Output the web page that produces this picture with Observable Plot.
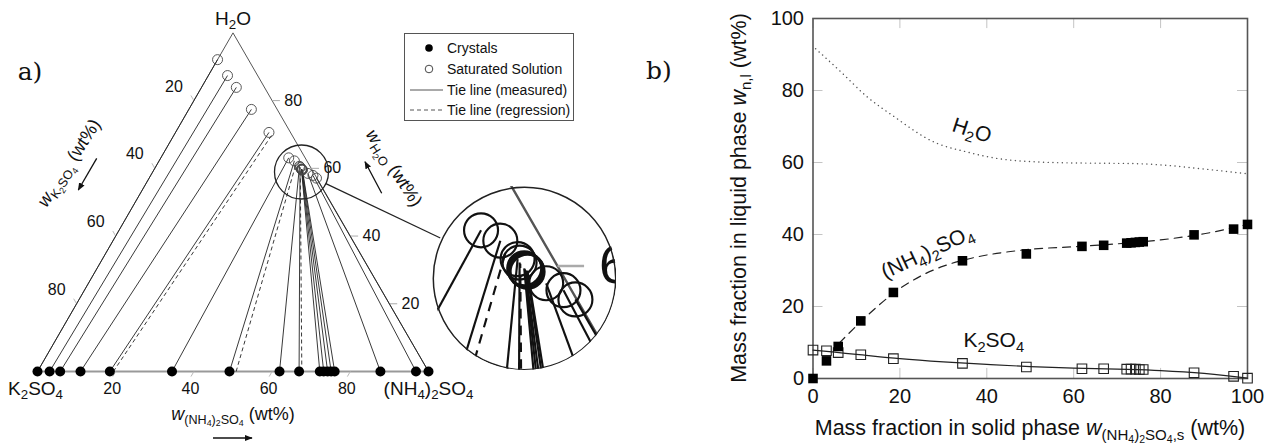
<!DOCTYPE html>
<html><head><meta charset="utf-8">
<script src="https://cdn.jsdelivr.net/npm/d3@7"></script>
<script src="https://cdn.jsdelivr.net/npm/@observablehq/plot@0.6"></script>
<style>
body{margin:0;background:#fff;}
#wrap{position:relative;width:1278px;height:447px;overflow:hidden;font-family:"Liberation Sans",Arial,sans-serif;color:#111;background:#fff;}
.lbl{position:absolute;white-space:nowrap;transform:translate(-50%,-50%);line-height:1;}
sub{font-size:70%;vertical-align:-0.3em;line-height:0;}
#legend{position:absolute;left:404px;top:33px;width:170px;height:88px;border:1px solid #555;background:#fff;font-size:14px;box-sizing:border-box;}
#legend .row{position:absolute;left:0;display:flex;align-items:center;transform:translateY(-50%);white-space:nowrap;}
#legend svg{width:42px;height:16px;flex:none;}
</style></head><body><div id="wrap"></div>
<script>
// ---------------- data ----------------
// crystal (solid phase) mass fraction of (NH4)2SO4, wt%
const solidNH4 = [0, 3.1, 5.8, 11.0, 18.5, 34.4, 49.1, 61.9, 66.9, 72.2, 73.2, 74.2, 75.1, 76.0, 87.7, 96.8, 100];
// saturated solution (liquid phase) composition, wt%
const liqNH4   = [0, 4.9, 8.9, 16.0, 23.9, 32.7, 34.6, 36.7, 37.0, 37.6, 37.7, 37.8, 37.9, 38.0, 39.9, 41.5, 42.8];
const liqK2SO4 = [7.9, 7.7, 7.2, 6.6, 5.5, 4.2, 3.2, 2.7, 2.7, 2.6, 2.6, 2.6, 2.5, 2.5, 1.6, 0.6, 0.1];
// regression tie lines
const regSolidNH4 = [19.4, 50.8, 67.6];
const regLiqNH4   = [25.0, 35.5, 37.1];
const regLiqK2SO4 = [5.3, 3.3, 2.7];
// regression curves (panel b)
const fitNH4X = [6, 10, 15, 20, 25, 30, 35, 40, 45, 50, 60, 70, 80, 90, 100];
const fitNH4Y = [9.8, 14.6, 20.2, 25.0, 28.6, 31.2, 33.0, 34.3, 35.2, 35.9, 36.6, 37.4, 38.5, 40.2, 42.8];
const fitK2X = [0, 5, 10, 20, 30, 40, 50, 60, 70, 80, 90, 95, 100];
const fitK2Y = [7.9, 7.3, 6.7, 5.5, 4.6, 3.9, 3.3, 2.9, 2.6, 2.2, 1.4, 0.8, 0.1];
const fitH2OX = [0.6, 6.4, 12.5, 18.6, 27.8, 35.5, 43.1, 50.8, 58.5, 66.1, 73.8, 81.5, 89.1, 99.8];
const fitH2OY = [91.6, 85.2, 78.2, 72.8, 65.7, 62.9, 61.0, 60.2, 59.9, 59.8, 59.7, 59.2, 58.3, 56.9];
// tick labels
const ternTicks = [20, 40, 60, 80];
const bTicks = [0, 20, 40, 60, 80, 100];

// ---------------- helpers ----------------
const S3 = Math.sqrt(3) / 2;
const tx = (a, h) => a + h / 2;
const ty = h => h * S3;
const FONT = '"Liberation Sans", Arial, sans-serif';
const wrap = document.getElementById("wrap");

function subify(svg) {
  svg.querySelectorAll("text").forEach(t => {
    const s = t.textContent;
    if (!s.includes("_") || t.children.length) return;
    const parts = []; let i = 0, cur = "";
    while (i < s.length) {
      if (s[i] === "_") {
        if (cur) parts.push([cur, false]); cur = ""; i++;
        let sub;
        if (s[i] === "{") { const j = s.indexOf("}", i); sub = s.slice(i + 1, j); i = j + 1; }
        else { sub = s[i]; i++; }
        parts.push([sub, true]);
      } else { cur += s[i]; i++; }
    }
    if (cur) parts.push([cur, false]);
    t.textContent = "";
    let prev = false;
    for (const [str, isSub] of parts) {
      const ts = document.createElementNS("http://www.w3.org/2000/svg", "tspan");
      ts.textContent = str;
      if (isSub) { ts.setAttribute("font-size", "70%"); if (!prev) ts.setAttribute("dy", "0.35em"); }
      else if (prev) ts.setAttribute("dy", "-0.245em");
      t.appendChild(ts); prev = isSub;
    }
  });
}

// ---------------- ternary (panel a) ----------------
const tie = solidNH4.map((s, i) => {
  const a = liqNH4[i], k = liqK2SO4[i], h = 100 - a - k;
  return {x1: s, y1: 0, x2: tx(a, h), y2: ty(h)};
});
const reg = regSolidNH4.map((s, i) => {
  const a = regLiqNH4[i], k = regLiqK2SO4[i], h = 100 - a - k;
  return {x1: s, y1: 0, x2: tx(a, h), y2: ty(h)};
});
const liqPts = tie.map(d => ({x: d.x2, y: d.y2}));
const crysPts = tie.map(d => ({x: d.x1, y: 0}));
const sidePts = [{x: 0, y: 0}, {x: 50, y: ty(100)}, {x: 100, y: 0}];
const basePts = [{x: 0, y: 0}, {x: 100, y: 0}];
const bTk = ternTicks.map(v => ({x1: v, y1: 0, x2: v - 0.75, y2: -1.3}));
const lTk = ternTicks.map(v => { const h = 100 - v; return {x1: tx(0, h), y1: ty(h), x2: tx(0, h) - 0.75, y2: ty(h) + 1.3}; });
const rTk = ternTicks.map(v => ({x1: tx(100 - v, v), y1: ty(v), x2: tx(100 - v, v) + 2, y2: ty(v)}));
const bLab = ternTicks.map(v => ({x: v - 0.9, y: -4.4, t: String(v)}));
const lLab = ternTicks.map(v => { const h = 100 - v; return {x: tx(0, h) - 5.1, y: ty(h) + 3.6, t: String(v)}; });
const rLab = ternTicks.map(v => ({x: tx(100 - v, v) + 5.4, y: ty(v), t: String(v)}));
const vLab = [{x: 50, y: ty(100) + 3.7, t: "H_2O"}, {x: -0.5, y: -4.4, t: "K_2SO_4"}, {x: 100, y: -4.4, t: "(NH_4)_2SO_4"}];

function ternMarks(k, ks, keep, ink) {
  const f = arr => arr.filter(keep);
  return [
    Plot.line(sidePts, {x: "x", y: "y", stroke: "#555", strokeWidth: 1 * ks}),
    Plot.line(basePts, {x: "x", y: "y", stroke: "#999", strokeWidth: 1.8 * ks}),
    Plot.link(bTk, {x1: "x1", y1: "y1", x2: "x2", y2: "y2", stroke: "#bbb", strokeWidth: ks}),
    Plot.link(lTk, {x1: "x1", y1: "y1", x2: "x2", y2: "y2", stroke: "#bbb", strokeWidth: ks}),
    Plot.link(rTk, {x1: "x1", y1: "y1", x2: "x2", y2: "y2", stroke: "#aaa", strokeWidth: ks}),
    Plot.text(f(bLab), {x: "x", y: "y", text: "t", fontSize: 16 * k, fill: "#111"}),
    Plot.text(f(lLab), {x: "x", y: "y", text: "t", fontSize: 16 * k, fill: "#111"}),
    Plot.text(f(rLab), {x: "x", y: "y", text: "t", fontSize: 16 * k, fill: "#111"}),
    Plot.text(f(vLab), {x: "x", y: "y", text: "t", fontSize: 19 * k, fill: "#111"}),
    Plot.link(tie, {x1: "x1", y1: "y1", x2: "x2", y2: "y2", stroke: ink, strokeWidth: 0.9 * ks}),
    Plot.link(reg, {x1: "x1", y1: "y1", x2: "x2", y2: "y2", stroke: ink, strokeWidth: 0.9 * ks, strokeDasharray: `${4 * ks},${3 * ks}`}),
    Plot.dot(liqPts, {x: "x", y: "y", r: 5 * k, stroke: ink === "#111" ? "#111" : "#444", strokeWidth: 0.9 * ks, fill: "none"}),
    Plot.dot(crysPts, {x: "x", y: "y", r: 5 * k, fill: "#000", stroke: "none"})
  ];
}

const PX = 3.91, X0 = 37, Y0 = 371, TW = 640, TH = 447;
// magnifier: small circle centre (data units), enlarged view centre (data units)
const mag = {x: (301 - X0) / PX, y: (Y0 - 171.5) / PX, r: 27};
const big = {x: (524 - X0) / PX, y: (Y0 - 277.5) / PX, r: 92};
const M = 3.4;
const dx = big.x - mag.x, dy = big.y - mag.y, dl = Math.hypot(dx, dy);
const ux = dx / dl, uy = dy / dl;
const connector = [{x1: mag.x + ux * mag.r / PX, y1: mag.y + uy * mag.r / PX, x2: big.x - ux * big.r / PX, y2: big.y - uy * big.r / PX}];

const main = Plot.plot({
  width: TW, height: TH, margin: 0,
  x: {domain: [-X0 / PX, (TW - X0) / PX], range: [0, TW], axis: null},
  y: {domain: [(Y0 - TH) / PX, Y0 / PX], range: [TH, 0], axis: null},
  style: {background: "transparent", overflow: "visible", fontFamily: FONT},
  marks: [
    ...ternMarks(1, 1, () => true, "#222"),
    Plot.dot([mag], {x: "x", y: "y", r: mag.r, stroke: "#222", strokeWidth: 1.3, fill: "none"}),
    Plot.link(connector, {x1: "x1", y1: "y1", x2: "x2", y2: "y2", stroke: "#222", strokeWidth: 1.2})
  ]
});
subify(main);
main.style.position = "absolute"; main.style.left = "0px"; main.style.top = "0px";
wrap.appendChild(main);

// enlarged view
const IS = 2 * big.r, half = big.r / (PX * M);
const inRange = d => Math.hypot(d.x - mag.x, d.y - mag.y) < half * 1.3;
const inset = Plot.plot({
  width: IS, height: IS, margin: 0,
  x: {domain: [mag.x - half, mag.x + half], range: [0, IS], axis: null},
  y: {domain: [mag.y - half, mag.y + half], range: [IS, 0], axis: null},
  style: {background: "#fff", overflow: "hidden", fontFamily: FONT},
  marks: [
    ...ternMarks(M, 2.4, inRange, "#111"),
    Plot.dot([mag], {x: "x", y: "y", r: big.r - 0.8, stroke: "#222", strokeWidth: 1.5, fill: "none"})
  ]
});
subify(inset);
const insetDiv = document.createElement("div");
insetDiv.style.cssText = `position:absolute;left:${524 - big.r}px;top:${277.5 - big.r}px;width:${IS}px;height:${IS}px;overflow:hidden;clip-path:circle(${big.r + 0.5}px at ${big.r}px ${big.r}px);background:#fff;`;
insetDiv.appendChild(inset);
wrap.appendChild(insetDiv);

// ---------------- panel b ----------------
const rows = solidNH4.map((s, i) => ({s, nh4: liqNH4[i], k2: liqK2SO4[i]}));
const fitNH4 = fitNH4X.map((x, i) => ({x, y: fitNH4Y[i]}));
const fitK2 = fitK2X.map((x, i) => ({x, y: fitK2Y[i]}));
const fitH2O = fitH2OX.map((x, i) => ({x, y: fitH2OY[i]}));

const right = Plot.plot({
  width: 638, height: 447, marginLeft: 172.5, marginRight: 31, marginTop: 18, marginBottom: 69,
  x: {domain: [0, 100], ticks: bTicks, tickSize: 0, tickPadding: 10, label: null},
  y: {domain: [0, 100], ticks: bTicks, tickSize: 0, tickPadding: 9, label: null},
  style: {background: "transparent", overflow: "visible", fontFamily: FONT, fontSize: "20px", color: "#111"},
  marks: [
    Plot.ruleX(bTicks, {x: d => d, y1: 0, y2: 2.8, stroke: "#c4c4c4"}),
    Plot.ruleX(bTicks, {x: d => d, y1: 100, y2: 97.2, stroke: "#c4c4c4"}),
    Plot.ruleY(bTicks, {y: d => d, x1: 0, x2: 2.3, stroke: "#c4c4c4"}),
    Plot.ruleY(bTicks, {y: d => d, x1: 100, x2: 97.7, stroke: "#c4c4c4"}),
    Plot.frame({stroke: "#555", strokeWidth: 1.6}),
    Plot.line(fitH2O, {x: "x", y: "y", curve: "monotone-x", stroke: "#555", strokeWidth: 1.4, strokeDasharray: "0.1,4.6", strokeLinecap: "round"}),
    Plot.line(fitNH4, {x: "x", y: "y", curve: "monotone-x", stroke: "#222", strokeWidth: 1.2, strokeDasharray: "8,6"}),
    Plot.line(fitK2, {x: "x", y: "y", curve: "monotone-x", stroke: "#222", strokeWidth: 1.2}),
    Plot.dot(rows, {x: "s", y: "k2", symbol: "square", r: 5.4, fill: "none", stroke: "#222", strokeWidth: 1.1}),
    Plot.dot(rows, {x: "s", y: "nh4", symbol: "square", r: 5.4, fill: "#000", stroke: "none"}),
    Plot.text(["H_2O"], {x: 36.6, y: 68.9, text: d => d, rotate: 18, fontSize: 21, fill: "#111"}),
    Plot.text(["(NH_4)_2SO_4"], {x: 26.3, y: 35.1, text: d => d, rotate: -25, fontSize: 21, fill: "#111"}),
    Plot.text(["K_2SO_4"], {x: 41.6, y: 10.6, text: d => d, fontSize: 21, fill: "#111"})
  ]
});
subify(right);
right.style.position = "absolute"; right.style.left = "640px"; right.style.top = "0px";
wrap.appendChild(right);

// ---------------- text, arrows, legend ----------------
function label(html, x, y, size, rot, extra) {
  const d = document.createElement("div");
  d.className = "lbl";
  d.innerHTML = html;
  d.style.left = x + "px"; d.style.top = y + "px"; d.style.fontSize = size + "px";
  d.style.transform = `translate(-50%,-50%) rotate(${rot || 0}deg)`;
  if (extra) d.style.cssText += extra;
  wrap.appendChild(d);
}
label("a)", 30, 71, 25, 0, "font-family:'DejaVu Serif',serif;");
label("b)", 659, 70, 25, 0, "font-family:'DejaVu Serif',serif;");
label("<i>w</i><sub>(NH<sub>4</sub>)<sub>2</sub>SO<sub>4</sub></sub> (wt%)", 233, 414, 18, 0);
label("<i>w</i><sub>K<sub>2</sub>SO<sub>4</sub></sub> (wt%)", 69, 163, 18, -57);
label("<i>w</i><sub>H<sub>2</sub>O</sub> (wt%)", 394, 167.5, 18, 57);
label("Mass fraction in solid phase <i>w</i><sub>(NH<sub>4</sub>)<sub>2</sub>SO<sub>4</sub>,s</sub> (wt%)", 1030, 429, 21.5, 0);
label("Mass fraction in liquid phase <i>w</i><sub>n,l</sub> (wt%)", 740, 198, 21.5, -90);

const ov = document.createElementNS("http://www.w3.org/2000/svg", "svg");
ov.setAttribute("width", 1278); ov.setAttribute("height", 447);
ov.style.cssText = "position:absolute;left:0;top:0;pointer-events:none;overflow:visible";
ov.innerHTML = `<defs><marker id="ah" viewBox="0 0 10 10" refX="9" refY="5" markerWidth="6" markerHeight="6" orient="auto"><path d="M0,1L10,5L0,9z" fill="#111"/></marker></defs>
<line x1="213" y1="438" x2="252" y2="438" stroke="#111" stroke-width="1.3" marker-end="url(#ah)"/>
<line x1="96.7" y1="158.3" x2="78.3" y2="190" stroke="#111" stroke-width="1.3" marker-end="url(#ah)"/>
<line x1="381.7" y1="193.3" x2="365" y2="161.7" stroke="#111" stroke-width="1.3" marker-end="url(#ah)"/>`;
wrap.appendChild(ov);

const lg = document.createElement("div");
lg.id = "legend";
const items = [
  ['<circle cx="24" cy="8" r="3.8" fill="#000"/>', "Crystals", 14],
  ['<circle cx="24" cy="8" r="3.8" fill="none" stroke="#333" stroke-width="0.9"/>', "Saturated Solution", 35],
  ['<line x1="5" y1="8" x2="38" y2="8" stroke="#555" stroke-width="1"/>', "Tie line (measured)", 56],
  ['<line x1="5" y1="8" x2="38" y2="8" stroke="#555" stroke-width="1" stroke-dasharray="4,3"/>', "Tie line (regression)", 76]
];
lg.innerHTML = items.map(([sym, t, y]) => `<div class="row" style="top:${y}px"><svg viewBox="0 0 42 16">${sym}</svg><span>${t}</span></div>`).join("");
wrap.appendChild(lg);
</script></body></html>
